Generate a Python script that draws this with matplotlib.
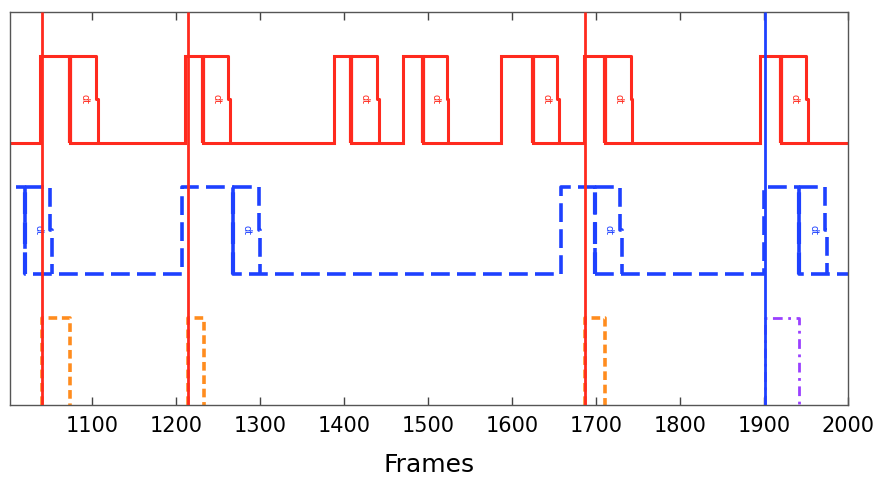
import numpy as np
import matplotlib
matplotlib.use("Agg")
import matplotlib.pyplot as plt

# red trace: pulse onset, start of dt window, pulse end (frames)
red_rise = [1038, 1211, 1388, 1470, 1587, 1686, 1895]
red_dt = [1074, 1232, 1408, 1494, 1625, 1711, 1920]
red_fall = [1105, 1262, 1439, 1522, 1654, 1741, 1950]

# blue trace (first pulse starts before the window)
blue_rise = [990, 1207, 1658, 1900]
blue_dt = [1020, 1268, 1699, 1942]
blue_fall = [1050, 1298, 1729, 1973]

# bottom row events
orange_on = [1040, 1214, 1687]
orange_off = [1074, 1233, 1711]
purple_on = [1901]
purple_off = [1942]

# full-height markers
red_marks = [1040, 1214, 1687]
blue_marks = [1901]

xmin, xmax = 1002, 2000
red_c = "#ff2a1e"
blue_c = "#1e41ff"
orange_c = "#ff8c1e"
purple_c = "#9a40ff"


def step_trace(rise, drop, lo, hi):
    xs, ys = [xmin - 100], [lo]
    for r, d in zip(rise, drop):
        xs += [r, r, d, d]
        ys += [lo, hi, hi, lo]
    xs.append(xmax + 100)
    ys.append(lo)
    return np.array(xs), np.array(ys)


def dt_boxes(ax, start, end, lo, hi, color, vlw, **kw):
    mid = (lo + hi) / 2
    for d, f in zip(start, end):
        ax.plot([d, f, f, f + 2, f + 2], [hi, hi, mid, mid, lo], color=color, **kw)
        ax.plot([d, d], [lo, hi], color=color, **dict(kw, lw=vlw))
        ax.text((d + f) / 2 + 1, mid, "dt", rotation=-90, color=color,
                fontsize=7, ha="center", va="center")


plt.rcParams["lines.solid_capstyle"] = "butt"
plt.rcParams["lines.dash_capstyle"] = "butt"

fig = plt.figure(figsize=(8.77, 4.79), dpi=100)
ax = fig.add_axes([10 / 877, 74 / 479, 838 / 877, 393 / 479])

# red signal
x, y = step_trace(red_rise, red_dt, 3, 4)
ax.plot(x, y, color=red_c, lw=2.2, solid_joinstyle="miter")
dt_boxes(ax, red_dt, red_fall, 3, 4, red_c, 3.0, lw=2.2)

# blue signal
x, y = step_trace(blue_rise, blue_dt, 1.5, 2.5)
ax.plot(x, y, color=blue_c, lw=2.6, dashes=(5.2, 2.0))
dt_boxes(ax, blue_dt, blue_fall, 1.5, 2.5, blue_c, 3.0, lw=2.6, dashes=(5.2, 2.0))

# bottom row
for on, off in zip(orange_on, orange_off):
    ax.plot([on, on, off, off], [0, 1, 1, 0], color=orange_c, lw=2.6, dashes=(2.4, 1.3))
for on, off in zip(purple_on, purple_off):
    ax.plot([on, on, off, off], [0, 1, 1, 0], color=purple_c, lw=2.0,
            dashes=(3.5, 2, 1, 2))

for m in red_marks:
    ax.axvline(m, color=red_c, lw=2.0, zorder=5)
for m in blue_marks:
    ax.axvline(m, color=blue_c, lw=2.0, zorder=5)

ax.set_xlim(xmin, xmax)
ax.set_ylim(0, 4.5)
ax.set_xticks(np.arange(1100, 2001, 100))
ax.set_yticks([])
ax.tick_params(axis="x", direction="in", length=6, width=1, top=True,
               labelsize=15, pad=8, color="#444444")
for s in ax.spines.values():
    s.set_color("#555555")
    s.set_linewidth(1)
ax.set_xlabel("Frames", fontsize=18, labelpad=12)

fig.savefig("out.png", dpi=100)
